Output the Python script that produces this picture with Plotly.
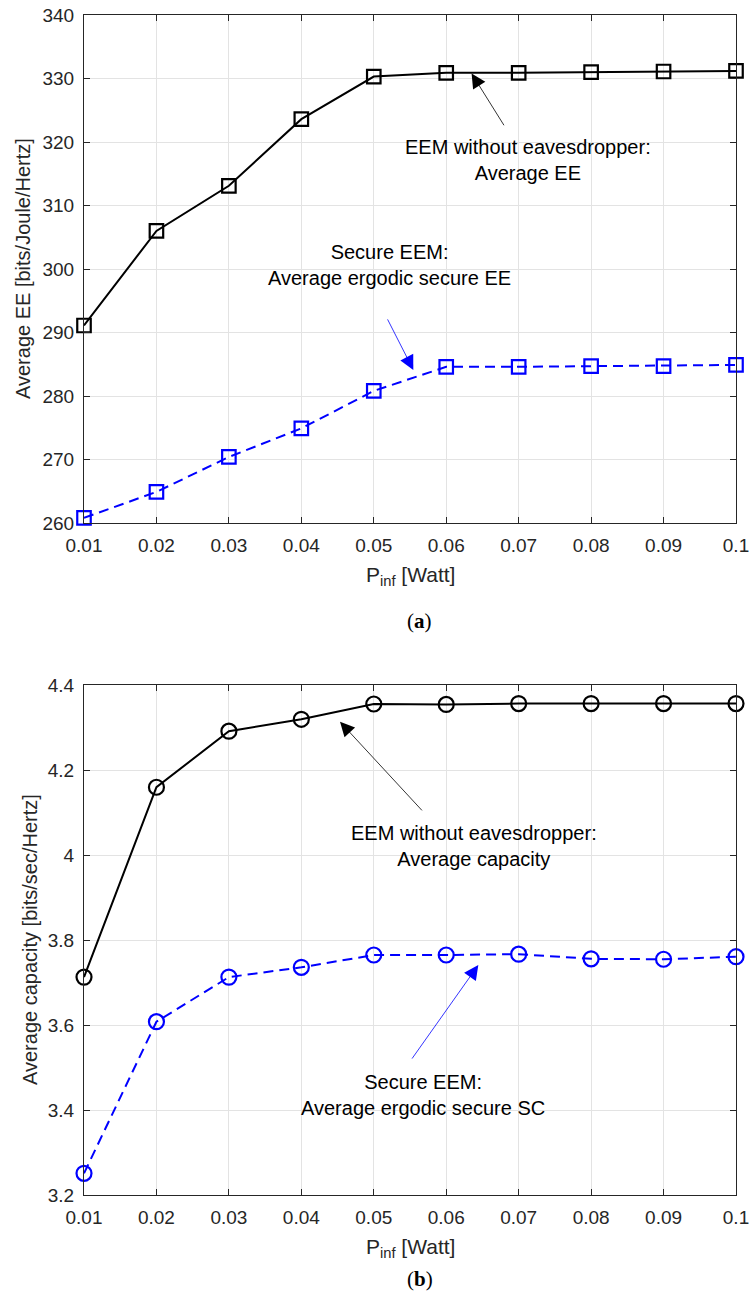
import plotly.graph_objects as go

# ---------------- data ----------------
p_inf = [0.01, 0.02, 0.03, 0.04, 0.05, 0.06, 0.07, 0.08, 0.09, 0.10]
x_tick_text = ["0.01", "0.02", "0.03", "0.04", "0.05", "0.06", "0.07", "0.08", "0.09", "0.1"]

ee_no_eve = [291.1, 306.0, 313.1, 323.6, 330.3, 330.9, 330.9, 331.0, 331.1, 331.2]
ee_secure = [260.8, 264.9, 270.4, 274.9, 280.8, 284.6, 284.6, 284.7, 284.7, 284.9]

cap_no_eve = [3.713, 4.160, 4.292, 4.320, 4.356, 4.355, 4.357, 4.357, 4.357, 4.357]
cap_secure = [3.251, 3.608, 3.713, 3.736, 3.765, 3.765, 3.767, 3.756, 3.755, 3.761]

ee_ticks = [260, 270, 280, 290, 300, 310, 320, 330, 340]
cap_ticks = [3.2, 3.4, 3.6, 3.8, 4.0, 4.2, 4.4]
cap_tick_text = ["3.2", "3.4", "3.6", "3.8", "4", "4.2", "4.4"]

W, H = 749, 1307
FONT = "Liberation Sans, Arial, Helvetica, sans-serif"
AX = "#262626"
GRID = "#e3e3e3"

fig = go.Figure()

# top panel
fig.add_trace(go.Scatter(x=p_inf, y=ee_no_eve, mode="lines+markers",
                         line=dict(color="black", width=2),
                         marker=dict(symbol="square-open", size=13.5, color="black",
                                     line=dict(width=2.2, color="black")),
                         xaxis="x", yaxis="y", showlegend=False, cliponaxis=False))
fig.add_trace(go.Scatter(x=p_inf, y=ee_secure, mode="lines+markers",
                         line=dict(color="#0000ff", width=2, dash="10px,6px"),
                         marker=dict(symbol="square-open", size=13.5, color="#0000ff",
                                     line=dict(width=2.2, color="#0000ff")),
                         xaxis="x", yaxis="y", showlegend=False, cliponaxis=False))
# bottom panel
fig.add_trace(go.Scatter(x=p_inf, y=cap_no_eve, mode="lines+markers",
                         line=dict(color="black", width=2),
                         marker=dict(symbol="circle-open", size=15, color="black",
                                     line=dict(width=2.2, color="black")),
                         xaxis="x2", yaxis="y2", showlegend=False, cliponaxis=False))
fig.add_trace(go.Scatter(x=p_inf, y=cap_secure, mode="lines+markers",
                         line=dict(color="#0000ff", width=2, dash="10px,6px"),
                         marker=dict(symbol="circle-open", size=15, color="#0000ff",
                                     line=dict(width=2.2, color="#0000ff")),
                         xaxis="x2", yaxis="y2", showlegend=False, cliponaxis=False))

x_dom = [84 / W, 736 / W]
top_dom = [1 - 523 / H, 1 - 15 / H]
bot_dom = [1 - 1195 / H, 1 - 685.3 / H]

TICKFONT = dict(family=FONT, size=19, color=AX)

def xaxis(anchor):
    return dict(domain=x_dom, range=[0.01, 0.1], anchor=anchor,
                tickvals=p_inf, ticktext=x_tick_text,
                showgrid=True, gridcolor=GRID, gridwidth=1,
                showline=True, linecolor=AX, linewidth=1.2, mirror="ticks",
                ticks="inside", ticklen=6, tickcolor=AX,
                tickfont=TICKFONT, ticklabelstandoff=5,
                ticklabeloverflow="allow",
                zeroline=False, automargin=False)

def yaxis(anchor, dom, rng, tv, tt):
    return dict(domain=dom, range=rng, anchor=anchor,
                tickvals=tv, ticktext=tt,
                showgrid=True, gridcolor=GRID, gridwidth=1,
                showline=True, linecolor=AX, linewidth=1.2, mirror="ticks",
                ticks="inside", ticklen=6, tickcolor=AX,
                tickfont=TICKFONT, ticklabelstandoff=5,
                ticklabeloverflow="allow",
                zeroline=False, automargin=False)

fig.update_layout(
    width=W, height=H,
    margin=dict(l=0, r=0, t=0, b=0),
    paper_bgcolor="white", plot_bgcolor="white",
    xaxis=xaxis("y"),
    yaxis=yaxis("x", top_dom, [260, 340], ee_ticks, [str(v) for v in ee_ticks]),
    xaxis2=xaxis("y2"),
    yaxis2=yaxis("x2", bot_dom, [3.2, 4.4], cap_ticks, cap_tick_text),
)

ann = []
tf = dict(family=FONT, size=20, color="black")
titlefont = dict(family=FONT, size=20, color=AX)

# axis titles
ann.append(dict(text="Average EE [bits/Joule/Hertz]", x=23 / W, y=1 - 269 / H,
                xref="paper", yref="paper", textangle=-90, showarrow=False,
                font=titlefont, xanchor="center", yanchor="middle"))
ann.append(dict(text="Average capacity [bits/sec/Hertz]", x=30 / W, y=1 - 940 / H,
                xref="paper", yref="paper", textangle=-90, showarrow=False,
                font=titlefont, xanchor="center", yanchor="middle"))
for yc in (576, 1248):
    ann.append(dict(text="P<sub>inf</sub> [Watt]", x=410 / W, y=1 - yc / H,
                    xref="paper", yref="paper", showarrow=False,
                    font=dict(family=FONT, size=21, color=AX), xanchor="center", yanchor="middle"))

# captions
capfont = dict(family="Liberation Serif, serif", size=21, color="black")
ann.append(dict(text="(<b>a</b>)", x=420 / W, y=1 - 621 / H, xref="paper", yref="paper",
                showarrow=False, font=capfont))
ann.append(dict(text="(<b>b</b>)", x=420 / W, y=1 - 1293 / H, xref="paper", yref="paper",
                showarrow=False, font=capfont))

# text labels
ann.append(dict(text="EEM without eavesdropper:<br>Average EE", x=0.0713, y=317.2,
                xref="x", yref="y", showarrow=False, font=tf, align="center"))
ann.append(dict(text="Secure EEM:<br>Average ergodic secure EE", x=0.0522, y=300.7,
                xref="x", yref="y", showarrow=False, font=tf, align="center"))
ann.append(dict(text="EEM without eavesdropper:<br>Average capacity", x=0.0638, y=4.0216,
                xref="x2", yref="y2", showarrow=False, font=tf, align="center"))
ann.append(dict(text="Secure EEM:<br>Average ergodic secure SC", x=0.0568, y=3.436,
                xref="x2", yref="y2", showarrow=False, font=tf, align="center"))

# arrows
def arrow(xr, yr, tip, tail, color):
    return dict(text="", x=tip[0], y=tip[1], ax=tail[0], ay=tail[1],
                xref=xr, yref=yr, axref=xr, ayref=yr, showarrow=True,
                arrowhead=2, arrowsize=3.6, arrowwidth=0.8, arrowcolor=color,
                standoff=0, startstandoff=0)

ann.append(arrow("x", "y", (0.0635, 330.8), (0.0681, 322.4), "black"))
ann.append(arrow("x", "y", (0.05546, 284.1), (0.0518, 292.3), "#0000ff"))
ann.append(arrow("x2", "y2", (0.04534, 4.314), (0.05684, 4.102), "black"))
ann.append(arrow("x2", "y2", (0.06443, 3.7414), (0.05514, 3.5177), "#0000ff"))

fig.update_layout(annotations=ann)
fig.write_html("out.html")
